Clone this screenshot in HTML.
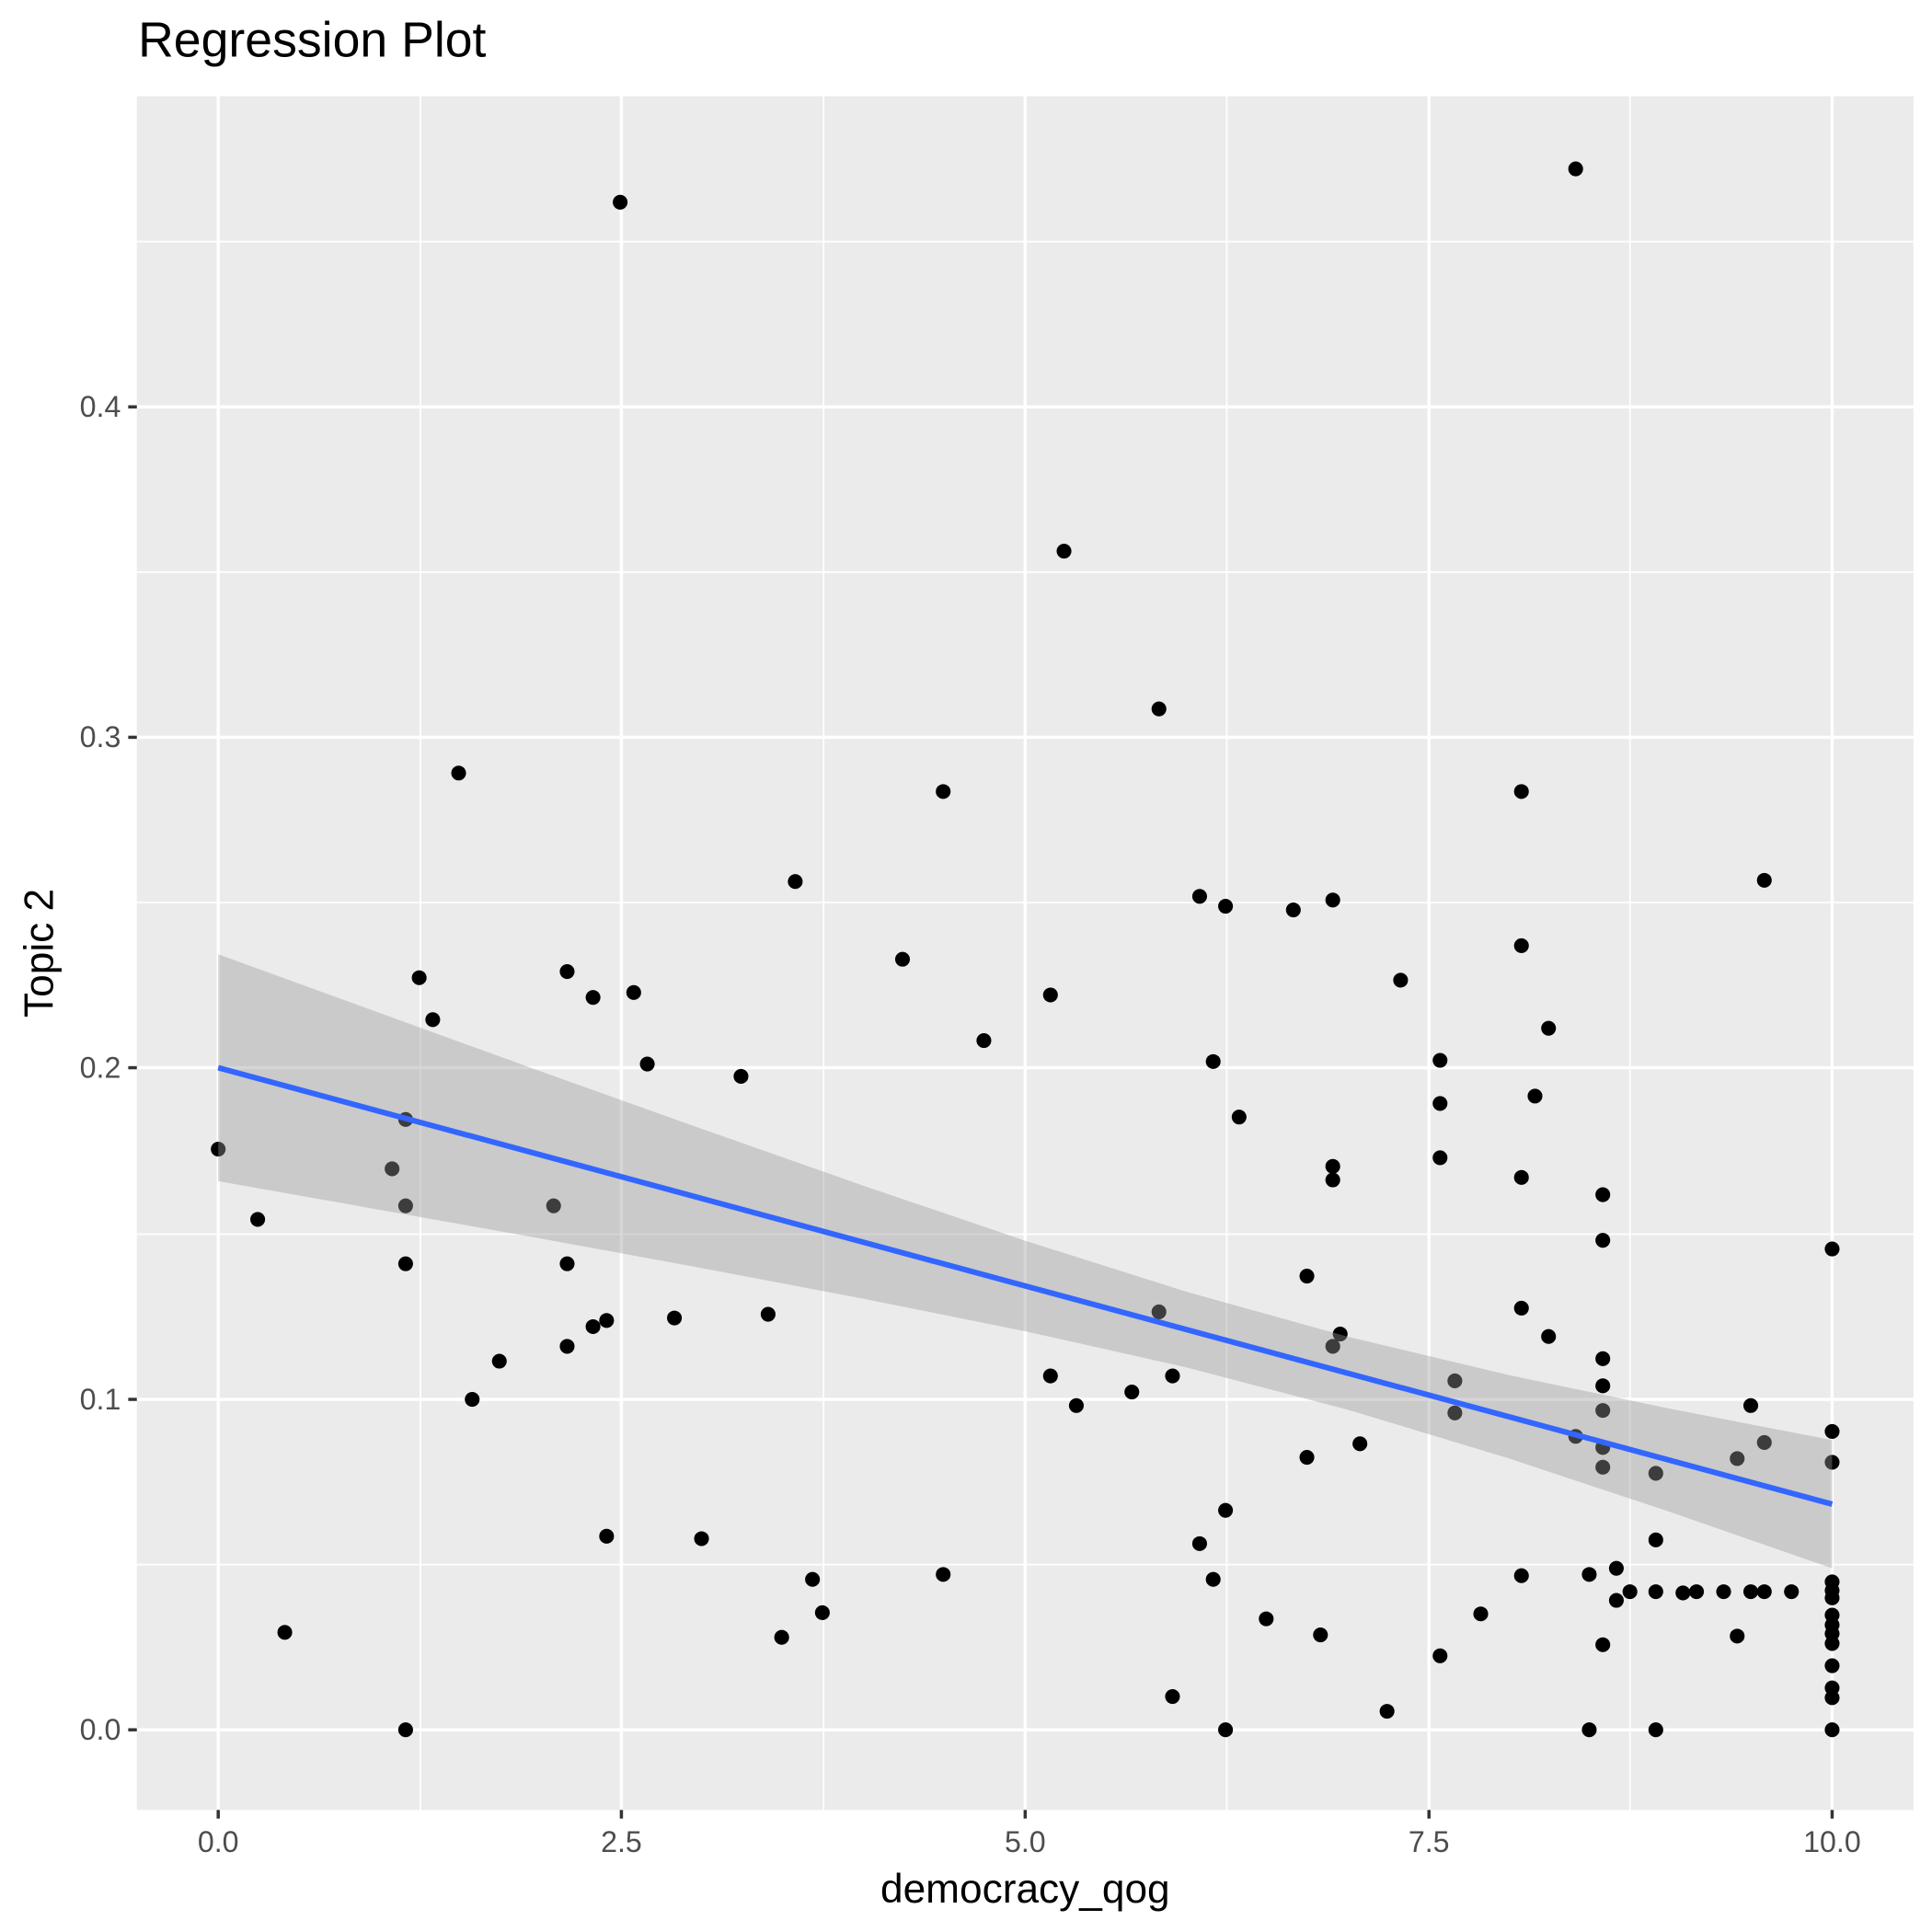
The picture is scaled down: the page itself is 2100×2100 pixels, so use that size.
<!DOCTYPE html>
<html><head><style>html,body{margin:0;padding:0;background:#fff}svg{display:block}</style></head>
<body>
<svg width="2100" height="2100" viewBox="0 0 1567 1567" xmlns="http://www.w3.org/2000/svg" font-family="Liberation Sans, sans-serif">
<rect x="0" y="0" width="1567" height="1567" fill="#fff"/>
<rect x="111" y="78" width="1441" height="1390" fill="#ebebeb"/>
<g stroke="#fff" stroke-width="1.3">
<line x1="111" x2="1552" y1="1269" y2="1269"/><line x1="111" x2="1552" y1="1001" y2="1001"/><line x1="111" x2="1552" y1="732" y2="732"/><line x1="111" x2="1552" y1="464" y2="464"/><line x1="111" x2="1552" y1="196" y2="196"/>
<line y1="78" y2="1468" x1="341" x2="341"/><line y1="78" y2="1468" x1="668" x2="668"/><line y1="78" y2="1468" x1="995" x2="995"/><line y1="78" y2="1468" x1="1322" x2="1322"/>
</g>
<g stroke="#fff" stroke-width="2.6">
<line x1="111" x2="1552" y1="1403" y2="1403"/><line x1="111" x2="1552" y1="1135" y2="1135"/><line x1="111" x2="1552" y1="866" y2="866"/><line x1="111" x2="1552" y1="598" y2="598"/><line x1="111" x2="1552" y1="330" y2="330"/>
<line y1="78" y2="1468" x1="177" x2="177"/><line y1="78" y2="1468" x1="504" x2="504"/><line y1="78" y2="1468" x1="831.5" x2="831.5"/><line y1="78" y2="1468" x1="1159" x2="1159"/><line y1="78" y2="1468" x1="1486" x2="1486"/>
</g>
<g fill="#000">
<circle cx="177" cy="932" r="6"/><circle cx="209" cy="989" r="6"/><circle cx="231" cy="1324" r="6"/><circle cx="318" cy="948" r="6"/><circle cx="329" cy="908" r="6"/><circle cx="329" cy="978" r="6"/><circle cx="329" cy="1025" r="6"/><circle cx="329" cy="1403" r="6"/><circle cx="340" cy="793" r="6"/><circle cx="351" cy="827" r="6"/><circle cx="372" cy="627" r="6"/><circle cx="383" cy="1135" r="6"/><circle cx="405" cy="1104" r="6"/><circle cx="449" cy="978" r="6"/><circle cx="460" cy="788" r="6"/><circle cx="460" cy="1025" r="6"/><circle cx="460" cy="1092" r="6"/><circle cx="481" cy="809" r="6"/><circle cx="481" cy="1076" r="6"/><circle cx="492" cy="1071" r="6"/><circle cx="492" cy="1246" r="6"/><circle cx="503" cy="164" r="6"/><circle cx="514" cy="805" r="6"/><circle cx="525" cy="863" r="6"/><circle cx="547" cy="1069" r="6"/><circle cx="569" cy="1248" r="6"/><circle cx="601" cy="873" r="6"/><circle cx="623" cy="1066" r="6"/><circle cx="634" cy="1328" r="6"/><circle cx="645" cy="715" r="6"/><circle cx="659" cy="1281" r="6"/><circle cx="667" cy="1308" r="6"/><circle cx="732" cy="778" r="6"/><circle cx="765" cy="1277" r="6"/><circle cx="765" cy="642" r="6"/><circle cx="798" cy="844" r="6"/><circle cx="852" cy="807" r="6"/><circle cx="852" cy="1116" r="6"/><circle cx="863" cy="447" r="6"/><circle cx="873" cy="1140" r="6"/><circle cx="918" cy="1129" r="6"/><circle cx="940" cy="575" r="6"/><circle cx="940" cy="1064" r="6"/><circle cx="951" cy="1116" r="6"/><circle cx="951" cy="1376" r="6"/><circle cx="973" cy="727" r="6"/><circle cx="973" cy="1252" r="6"/><circle cx="984" cy="861" r="6"/><circle cx="984" cy="1281" r="6"/><circle cx="994" cy="735" r="6"/><circle cx="994" cy="1225" r="6"/><circle cx="994" cy="1403" r="6"/><circle cx="1005" cy="906" r="6"/><circle cx="1027" cy="1313" r="6"/><circle cx="1049" cy="738" r="6"/><circle cx="1060" cy="1035" r="6"/><circle cx="1060" cy="1182" r="6"/><circle cx="1071" cy="1326" r="6"/><circle cx="1081" cy="730" r="6"/><circle cx="1081" cy="946" r="6"/><circle cx="1081" cy="957" r="6"/><circle cx="1081" cy="1092" r="6"/><circle cx="1087" cy="1082" r="6"/><circle cx="1103" cy="1171" r="6"/><circle cx="1125" cy="1388" r="6"/><circle cx="1136" cy="795" r="6"/><circle cx="1168" cy="860" r="6"/><circle cx="1168" cy="895" r="6"/><circle cx="1168" cy="939" r="6"/><circle cx="1168" cy="1343" r="6"/><circle cx="1180" cy="1120" r="6"/><circle cx="1180" cy="1146" r="6"/><circle cx="1201" cy="1309" r="6"/><circle cx="1234" cy="642" r="6"/><circle cx="1234" cy="767" r="6"/><circle cx="1234" cy="955" r="6"/><circle cx="1234" cy="1061" r="6"/><circle cx="1234" cy="1278" r="6"/><circle cx="1245" cy="889" r="6"/><circle cx="1256" cy="834" r="6"/><circle cx="1256" cy="1084" r="6"/><circle cx="1278" cy="137" r="6"/><circle cx="1278" cy="1165" r="6"/><circle cx="1289" cy="1277" r="6"/><circle cx="1289" cy="1403" r="6"/><circle cx="1300" cy="969" r="6"/><circle cx="1300" cy="1006" r="6"/><circle cx="1300" cy="1102" r="6"/><circle cx="1300" cy="1124" r="6"/><circle cx="1300" cy="1144" r="6"/><circle cx="1300" cy="1174" r="6"/><circle cx="1300" cy="1190" r="6"/><circle cx="1300" cy="1334" r="6"/><circle cx="1311" cy="1272" r="6"/><circle cx="1311" cy="1298" r="6"/><circle cx="1322" cy="1291" r="6"/><circle cx="1343" cy="1249" r="6"/><circle cx="1343" cy="1195" r="6"/><circle cx="1343" cy="1291" r="6"/><circle cx="1343" cy="1403" r="6"/><circle cx="1365" cy="1292" r="6"/><circle cx="1376" cy="1291" r="6"/><circle cx="1398" cy="1291" r="6"/><circle cx="1409" cy="1183" r="6"/><circle cx="1409" cy="1327" r="6"/><circle cx="1420" cy="1140" r="6"/><circle cx="1420" cy="1291" r="6"/><circle cx="1431" cy="714" r="6"/><circle cx="1431" cy="1170" r="6"/><circle cx="1431" cy="1291" r="6"/><circle cx="1453" cy="1291" r="6"/><circle cx="1486" cy="1013" r="6"/><circle cx="1486" cy="1161" r="6"/><circle cx="1486" cy="1186" r="6"/><circle cx="1486" cy="1283" r="6"/><circle cx="1486" cy="1290" r="6"/><circle cx="1486" cy="1296" r="6"/><circle cx="1486" cy="1310" r="6"/><circle cx="1486" cy="1318" r="6"/><circle cx="1486" cy="1325" r="6"/><circle cx="1486" cy="1333" r="6"/><circle cx="1486" cy="1351" r="6"/><circle cx="1486" cy="1369" r="6"/><circle cx="1486" cy="1377" r="6"/><circle cx="1486" cy="1403" r="6"/>
</g>
<path d="M177,774 L307.9,821.6 L438.8,869 L569.7,915.8 L700.6,961.8 L831.5,1006.3 L962.4,1047.7 L1093.3,1084.2 L1224.2,1115.4 L1355.1,1142.7 L1486,1168 L1486,1272 L1355.1,1226.5 L1224.2,1183 L1093.3,1143.4 L962.4,1109.1 L831.5,1079.7 L700.6,1053.4 L569.7,1028.6 L438.8,1004.6 L307.9,981.2 L177,958 Z" fill="#999" fill-opacity="0.4"/>
<line x1="177" y1="866" x2="1486" y2="1220" stroke="#3366ff" stroke-width="4.5"/>
<g stroke="#333" stroke-width="2.6">
<line x1="104" x2="111" y1="1403" y2="1403"/><line x1="104" x2="111" y1="1135" y2="1135"/><line x1="104" x2="111" y1="866" y2="866"/><line x1="104" x2="111" y1="598" y2="598"/><line x1="104" x2="111" y1="330" y2="330"/>
<line y1="1468" y2="1475" x1="177" x2="177"/><line y1="1468" y2="1475" x1="504" x2="504"/><line y1="1468" y2="1475" x1="831.5" x2="831.5"/><line y1="1468" y2="1475" x1="1159" x2="1159"/><line y1="1468" y2="1475" x1="1486" x2="1486"/>
</g>
<g fill="#4d4d4d" font-size="24" text-anchor="end">
<text x="98" y="1411">0.0</text><text x="98" y="1143">0.1</text><text x="98" y="874">0.2</text><text x="98" y="606">0.3</text><text x="98" y="338">0.4</text>
</g>
<g fill="#4d4d4d" font-size="24" text-anchor="middle">
<text x="177" y="1502">0.0</text><text x="504" y="1502">2.5</text><text x="831.5" y="1502">5.0</text><text x="1159" y="1502">7.5</text><text x="1486" y="1502">10.0</text>
</g>
<text x="831.5" y="1543" font-size="33" text-anchor="middle" fill="#000">democracy_qog</text>
<text transform="translate(43,773) rotate(-90)" font-size="33" text-anchor="middle" fill="#000">Topic 2</text>
<text x="112" y="46" font-size="40" fill="#000">Regression Plot</text>
</svg>
</body></html>
